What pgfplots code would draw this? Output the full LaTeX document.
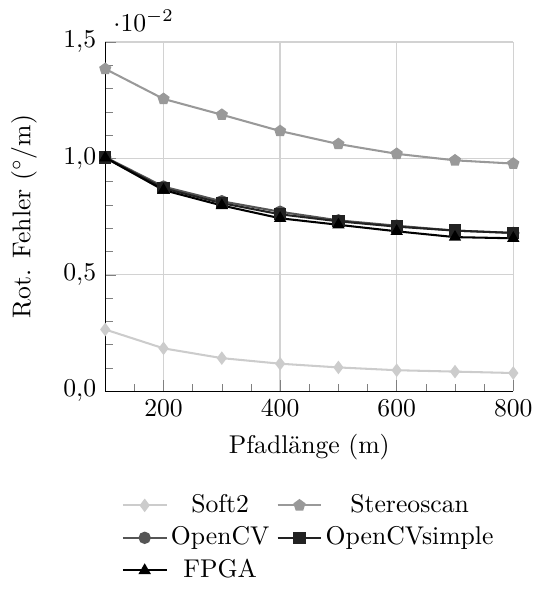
\documentclass[border=0pt]{standalone}
\usepackage{pgfplots}
\pgfplotsset{compat=1.18}
\definecolor{cSoft}{HTML}{CCCCCC}
\definecolor{cStereo}{HTML}{999999}
\definecolor{cOCV}{HTML}{555555}
\definecolor{cOCVs}{HTML}{222222}
\begin{document}
\begin{tikzpicture}
\begin{axis}[
  scale only axis,
  width=159pt, height=136pt,
  xmin=100, xmax=800, ymin=0, ymax=0.015,
  xtick={200,400,600,800},
  ytick={0,0.005,0.01,0.015},
  minor xtick={100,150,...,800},
  minor y tick num=4,
  grid=major,
  grid style={gray!35, line width=0.5pt},
  axis x line*=bottom, axis y line*=left,
  axis line style={-},
  scaled y ticks=base 10:2,
  y tick label style={/pgf/number format/fixed, /pgf/number format/fixed zerofill, /pgf/number format/precision=1, /pgf/number format/use comma},
  xlabel={Pfadlänge (m)},
  ylabel={Rot. Fehler ($^\circ$/m)},
  every axis y label/.append style={yshift=3.5pt},
  legend columns=2,
  legend style={at={(0.5,-0.27)}, anchor=north, draw=none, column sep=0pt, row sep=1.5pt, nodes={inner sep=1.3pt},
    /tikz/every even column/.append style={column sep=1.5pt}},
  every axis plot/.append style={line width=0.8pt},
]
\addplot[color=cSoft, mark=diamond*, mark options={fill=cSoft}] coordinates {
(100,0.00265)(200,0.00184)(300,0.00142)(400,0.00118)(500,0.00102)(600,0.00090)(700,0.00084)(800,0.00078)};
\addlegendentry{Soft2}
\addplot[color=cStereo, mark=pentagon*, mark options={fill=cStereo}] coordinates {
(100,0.01385)(200,0.01256)(300,0.01188)(400,0.01118)(500,0.01062)(600,0.01020)(700,0.00992)(800,0.00978)};
\addlegendentry{Stereoscan}
\addplot[color=cOCV, mark=*, mark options={fill=cOCV}] coordinates {
(100,0.01006)(200,0.00879)(300,0.00816)(400,0.00771)(500,0.00734)(600,0.00711)(700,0.00690)(800,0.00680)};
\addlegendentry{OpenCV}
\addplot[color=cOCVs, mark=square*, mark options={fill=cOCVs}] coordinates {
(100,0.01004)(200,0.00872)(300,0.00808)(400,0.00760)(500,0.00730)(600,0.00707)(700,0.00690)(800,0.00680)};
\addlegendentry{OpenCVsimple}
\addplot[color=black, mark=triangle*, mark options={fill=black}] coordinates {
(100,0.01003)(200,0.00864)(300,0.00798)(400,0.00743)(500,0.00715)(600,0.00687)(700,0.00662)(800,0.00657)};
\addlegendentry{FPGA}
\end{axis}
\path ([yshift=4pt]current bounding box.north) -- (current bounding box.south);
\path ([xshift=-1pt]current bounding box.west);
\end{tikzpicture}
\end{document}
